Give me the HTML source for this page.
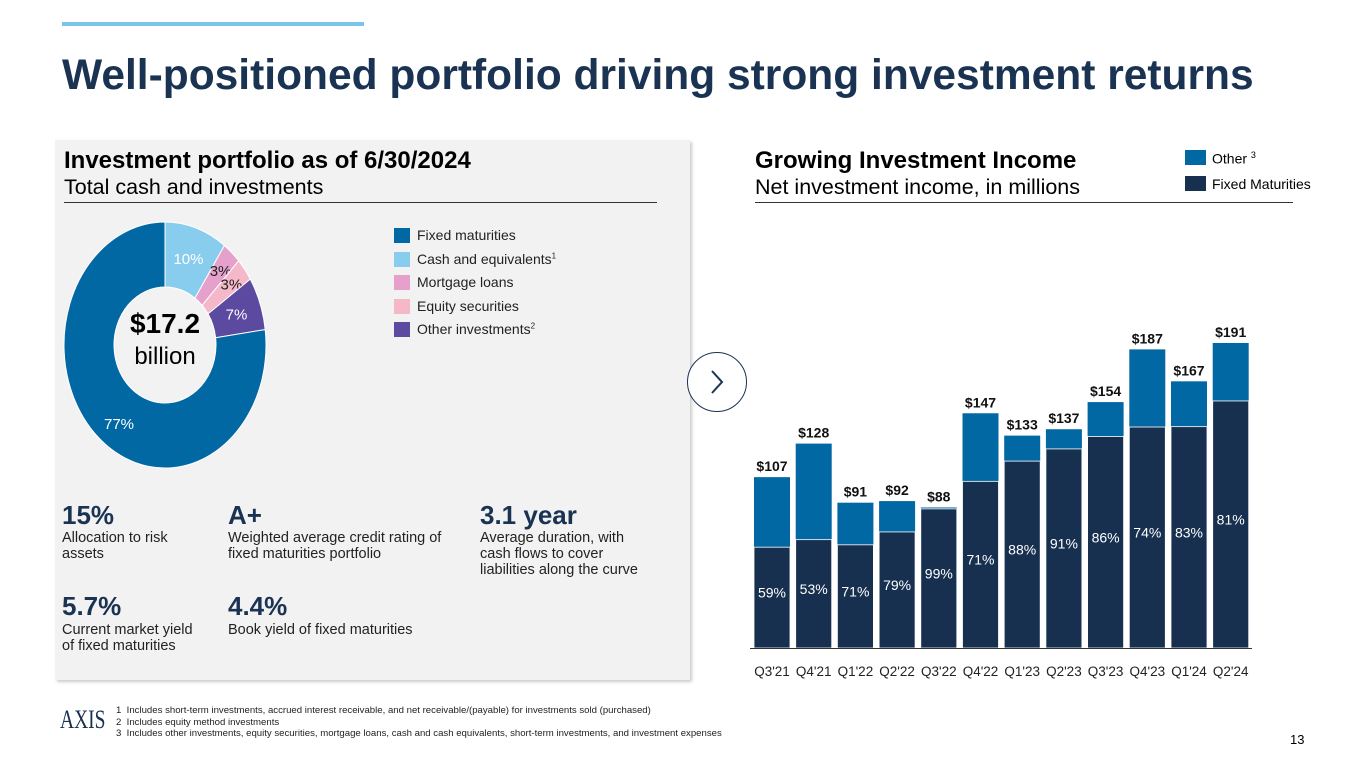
<!DOCTYPE html>
<html><head><meta charset="utf-8"><style>
body{margin:0;width:1365px;height:768px;background:#fff;font-family:"Liberation Sans",sans-serif;position:relative;overflow:hidden;color:#000}
.abs{position:absolute}
.t{white-space:nowrap}
</style></head><body>
<div class="abs" style="left:62px;top:22px;width:302px;height:4px;background:#7cc5ea"></div>
<div class="abs t" style="left:62px;top:52px;font-size:42.5px;font-weight:bold;color:#1a3352;letter-spacing:0px">Well-positioned portfolio driving strong investment returns</div>

<div class="abs" style="left:55px;top:140px;width:635px;height:540px;background:#f2f2f2;box-shadow:2px 2px 3px #ccc"></div>
<div class="abs t" style="left:64px;top:147px;font-size:24px;font-weight:bold">Investment portfolio as of 6/30/2024</div>
<div class="abs t" style="left:64px;top:175px;font-size:21.5px">Total cash and investments</div>
<div class="abs" style="left:64px;top:202px;width:593px;height:1px;background:#333"></div>

<svg class="abs" style="left:0;top:0" width="700" height="480" id="donut"></svg>
<div class="abs t" style="left:115px;top:308px;width:100px;text-align:center;font-size:28px;font-weight:bold">$17.2</div>
<div class="abs t" style="left:115px;top:343px;width:100px;text-align:center;font-size:24px">billion</div>

<div id="legendL"></div>

<div class="abs t" style="left:62px;top:500px;font-size:26px;font-weight:bold;color:#1a3352">15%</div>
<div class="abs" style="left:62px;top:530px;font-size:14.5px;line-height:16px;color:#222">Allocation to risk<br>assets</div>
<div class="abs t" style="left:228px;top:500px;font-size:26px;font-weight:bold;color:#1a3352">A+</div>
<div class="abs" style="left:228px;top:530px;font-size:14.5px;line-height:16px;color:#222">Weighted average credit rating of<br>fixed maturities portfolio</div>
<div class="abs t" style="left:480px;top:500px;font-size:26px;font-weight:bold;color:#1a3352">3.1 year</div>
<div class="abs" style="left:480px;top:530px;font-size:14.5px;line-height:16px;color:#222">Average duration, with<br>cash flows to cover<br>liabilities along the curve</div>
<div class="abs t" style="left:62px;top:591px;font-size:26px;font-weight:bold;color:#1a3352">5.7%</div>
<div class="abs" style="left:62px;top:622px;font-size:14.5px;line-height:16px;color:#222">Current market yield<br>of fixed maturities</div>
<div class="abs t" style="left:228px;top:591px;font-size:26px;font-weight:bold;color:#1a3352">4.4%</div>
<div class="abs" style="left:228px;top:622px;font-size:14.5px;line-height:16px;color:#222">Book yield of fixed maturities</div>

<div class="abs t" style="left:755px;top:147px;font-size:24px;font-weight:bold">Growing Investment Income</div>
<div class="abs t" style="left:755px;top:175px;font-size:21.5px">Net investment income, in millions</div>
<div class="abs" style="left:755px;top:202px;width:538px;height:1px;background:#333"></div>
<div class="abs" style="left:1185px;top:150px;width:21px;height:15px;background:#0268a3"></div>
<div class="abs t" style="left:1212px;top:150px;font-size:14px">Other <sup style="font-size:9px">3</sup></div>
<div class="abs" style="left:1185px;top:176px;width:21px;height:15px;background:#17304f"></div>
<div class="abs t" style="left:1212px;top:176px;font-size:14px">Fixed Maturities</div>

<div class="abs" style="left:687px;top:352px;width:58px;height:58px;border:1px solid #1a3352;border-radius:50%;background:#fff"><svg width="58" height="58"><path d="M24 18 L34 29 L24 40" fill="none" stroke="#1a3352" stroke-width="2"/></svg></div>

<svg class="abs" id="bars" style="left:740px;top:320px" width="560" height="370"></svg>

<div class="abs t" style="left:60px;top:705px;font-family:'Liberation Serif',serif;font-size:26px;color:#17304f;transform:scaleX(0.75);transform-origin:left top">AXIS</div>
<div class="abs" style="left:116px;top:705px;font-size:9.6px;line-height:11.5px;color:#222">1&nbsp; Includes short-term investments, accrued interest receivable, and net receivable/(payable) for investments sold (purchased)<br>2&nbsp; Includes equity method investments<br>3&nbsp; Includes other investments, equity securities, mortgage loans, cash and cash equivalents, short-term investments, and investment expenses</div>
<div class="abs t" style="left:1290px;top:732px;font-size:13px">13</div>

<script>
var NS="http://www.w3.org/2000/svg";
var sliceNames=["Cash and equivalents","Mortgage loans","Equity securities","Other investments","Fixed maturities"];
var sliceValues=[10,3,3,7,77];
var sliceColors=["#88cdee","#e5a0cc","#f4b8c8","#5b4aa0","#0268a3"];
var sliceLabelColors=["#fff","#222","#222","#fff","#fff"];
var legendNames=["Fixed maturities","Cash and equivalents","Mortgage loans","Equity securities","Other investments"];
var legendSups=["","1","","","2"];
var legendColors=["#0268a3","#88cdee","#e5a0cc","#f4b8c8","#5b4aa0"];

var svg=document.getElementById("donut");
var cx=165,cy=345,rx=101,ry=123,irx=51,iry=58;
var tot=sliceValues.reduce(function(a,b){return a+b},0);
var acc=0;
function pt(a,x,y){return [cx+x*Math.sin(a),cy-y*Math.cos(a)];}
sliceValues.forEach(function(v,i){
  var a0=acc/tot*2*Math.PI;acc+=v;var a1=acc/tot*2*Math.PI;
  var lg=(a1-a0)>Math.PI?1:0;
  var p0=pt(a0,rx,ry),p1=pt(a1,rx,ry),q1=pt(a1,irx,iry),q0=pt(a0,irx,iry);
  var p=document.createElementNS(NS,"path");
  p.setAttribute("d","M"+p0+" A"+rx+" "+ry+" 0 "+lg+" 1 "+p1+" L"+q1+" A"+irx+" "+iry+" 0 "+lg+" 0 "+q0+"Z");
  p.setAttribute("fill",sliceColors[i]);p.setAttribute("stroke","#fff");p.setAttribute("stroke-width","1");
  
  
  svg.appendChild(p);
  var am=(a0+a1)/2;var lp=pt(am,(rx+irx)/2+ (v<5?8:0),(ry+iry)/2+(v<5?8:0));
  if(i==4){lp=[cx-46,cy+79];}
  var t=document.createElementNS(NS,"text");
  t.setAttribute("x",lp[0]);t.setAttribute("y",lp[1]+5);t.setAttribute("text-anchor","middle");
  t.setAttribute("font-size","15");t.setAttribute("fill",sliceLabelColors[i]);
  t.textContent=v+"%";
  
  
  svg.appendChild(t);
});
var lg=document.getElementById("legendL");
legendNames.forEach(function(n,i){
  var y=227+i*23.5;
  var s=document.createElement("div");s.className="abs";
  s.style.cssText="left:394px;top:"+(y+1)+"px;width:16px;height:15px;background:"+legendColors[i];
  
  
  lg.appendChild(s);
  var d=document.createElement("div");d.className="abs t";
  d.style.cssText="left:417px;top:"+y+"px;font-size:14px;color:#222";
  d.innerHTML=n+(legendSups[i]?"<sup style='font-size:8px'>"+legendSups[i]+"</sup>":"");
  
  
  lg.appendChild(d);
});

var quarters=["Q3'21","Q4'21","Q1'22","Q2'22","Q3'22","Q4'22","Q1'23","Q2'23","Q3'23","Q4'23","Q1'24","Q2'24"];
var totals=[107,128,91,92,88,147,133,137,154,187,167,191];
var fixedPct=[59,53,71,79,99,71,88,91,86,74,83,81];
var b=document.getElementById("bars");
var base=328, scale=305/191, x0=14, pitch=41.7, bw=36;
function yv(v){return base-v*scale;}
function mk(tag,attrs,name){var e=document.createElementNS(NS,tag);for(var k in attrs)e.setAttribute(k,attrs[k]);
  
  
  b.appendChild(e);return e;}
quarters.forEach(function(q,i){
  var x=x0+i*pitch, tv=totals[i], fv=tv*fixedPct[i]/100;
  mk("rect",{x:x,y:yv(tv),width:bw,height:tv*scale,fill:"#0268a3"},"bar-other");
  mk("rect",{x:x,y:yv(fv),width:bw,height:fv*scale,fill:"#17304f",stroke:"#fff","stroke-width":0.8},"bar-fixed");
  var t=mk("text",{x:x+bw/2,y:yv(tv)-6,"text-anchor":"middle","font-size":"14","font-weight":"bold",fill:"#111"},"bar-total-label");t.textContent="$"+tv;
  var p=mk("text",{x:x+bw/2,y:(yv(fv)+base)/2,"text-anchor":"middle","font-size":"14",fill:"#fff"},"bar-pct-label");p.textContent=fixedPct[i]+"%";
  var l=mk("text",{x:x+bw/2,y:356,"text-anchor":"middle","font-size":"13.5",fill:"#222"},"x-tick-label");l.textContent=q;
});
mk("line",{x1:10,x2:512,y1:base+0.5,y2:base+0.5,stroke:"#333","stroke-width":1},"x-axis");
</script>
</body></html>
